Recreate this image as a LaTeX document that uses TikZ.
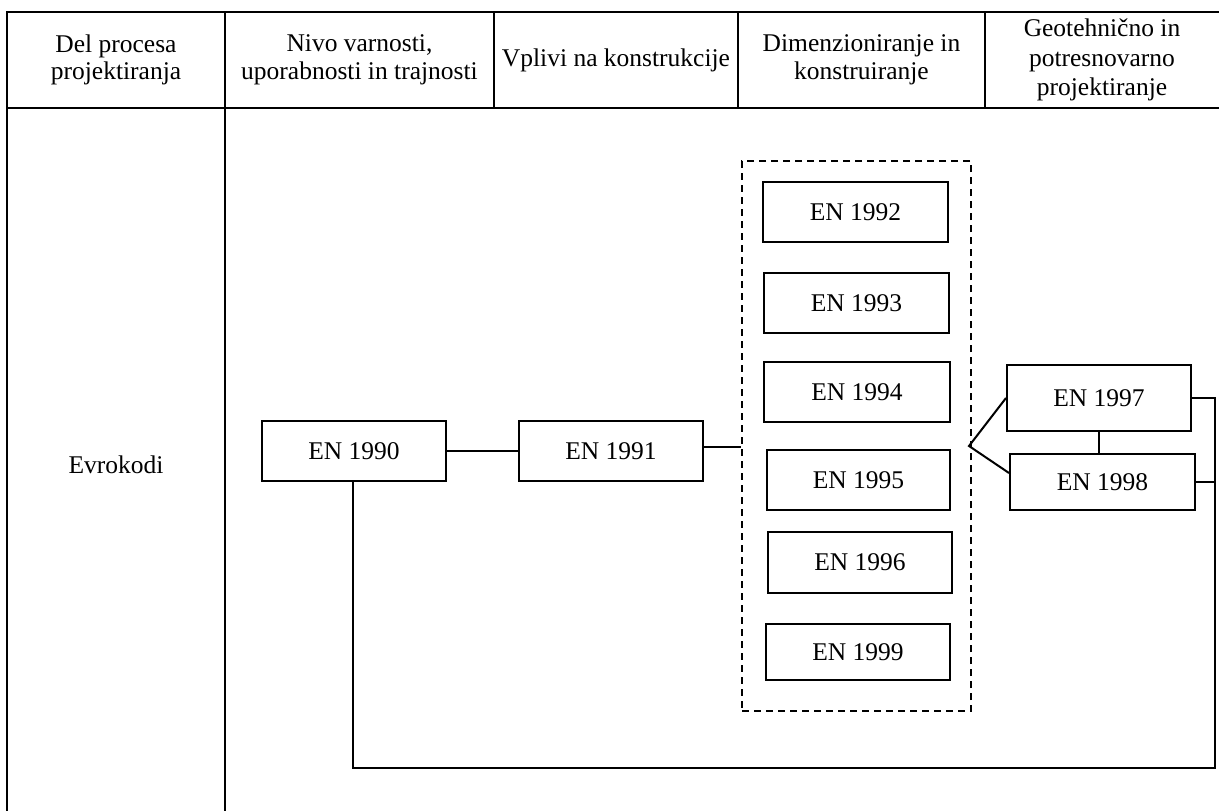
\documentclass[tikz,border=0pt]{standalone}
\usepackage{fontspec}
\setmainfont{Liberation Serif}
\begin{document}
\begin{tikzpicture}[x=1pt,y=-1pt,
  grid/.style={line width=2.5pt},
  en/.style={draw, line width=2pt, inner sep=0pt, font=\fontsize{25.5}{27.5}\selectfont},
  hd/.style={align=center, font=\fontsize{25.5}{27.5}\selectfont, inner sep=0pt},
  link/.style={line width=2pt},
  group/.style={draw, line width=2pt, dash pattern=on 7pt off 5pt, inner sep=0pt}]
\useasboundingbox (0,0) rectangle (1219,811);
% table
\draw[grid] (7,811) -- (7,12) -- (1219,12);
\draw[grid] (7,108) -- (1219,108);
\draw[grid] (225,12) -- (225,811);
\draw[grid] (494,12) -- (494,108);
\draw[grid] (738,12) -- (738,108);
\draw[grid] (985,12) -- (985,108);
% headers
\node[hd] (h1) at (116,60) {Del procesa\\projektiranja};
\node[hd] (h2) at (359.5,60) {Nivo varnosti,\\uporabnosti in trajnosti};
\node[hd] (h3) at (616,60) {Vplivi na konstrukcije};
\node[hd] (h4) at (861.5,60) {Dimenzioniranje in\\konstruiranje};
\node[hd, font=\fontsize{25.5}{29.5}\selectfont] (h5) at (1102,60) {Geotehnično in\\potresnovarno\\projektiranje};
\node[hd] (evro) at (116,465) {Evrokodi};
% boxes
\node[en, minimum width=184pt, minimum height=60pt] (n1990) at (354,451) {EN 1990};
\node[en, minimum width=184pt, minimum height=60pt] (n1991) at (611,451) {EN 1991};
\node[group, minimum width=229pt, minimum height=550pt] (grp) at (856.5,436) {};
\node[en, minimum width=185pt, minimum height=60pt] (n1992) at (855.5,212) {EN 1992};
\node[en, minimum width=185pt, minimum height=60pt] (n1993) at (856.5,303) {EN 1993};
\node[en, minimum width=186pt, minimum height=60pt] (n1994) at (857,392) {EN 1994};
\node[en, minimum width=183pt, minimum height=60pt] (n1995) at (858.5,480) {EN 1995};
\node[en, minimum width=184pt, minimum height=61pt] (n1996) at (860,562) {EN 1996};
\node[en, minimum width=184pt, minimum height=56pt] (n1999) at (858,652) {EN 1999};
\node[en, minimum width=184pt, minimum height=66pt] (n1997) at (1099,398) {EN 1997};
\node[en, minimum width=185pt, minimum height=56pt] (n1998) at (1102.5,482) {EN 1998};
% connectors
\coordinate (fork) at (969,446);
\coordinate (rc) at (1215,768);
\coordinate (lc) at (353,768);
\draw[link] (n1990.east) -- (n1991.east -| n1991.west) ;
\draw[link] ([yshift=4pt]n1991.east) -- ([yshift=4pt]n1991.east -| grp.west);
\draw[link] (n1997.west) -- (fork) -- ([yshift=9pt]n1998.west);
\draw[link] (n1997.south) -- (n1997.south |- n1998.north);
\draw[link] (n1997.east) -- (n1997.east -| rc) -- (rc) -- (lc) -- (lc |- n1990.south);
\draw[link] (n1998.east) -- (n1998.east -| rc);
\end{tikzpicture}
\end{document}
